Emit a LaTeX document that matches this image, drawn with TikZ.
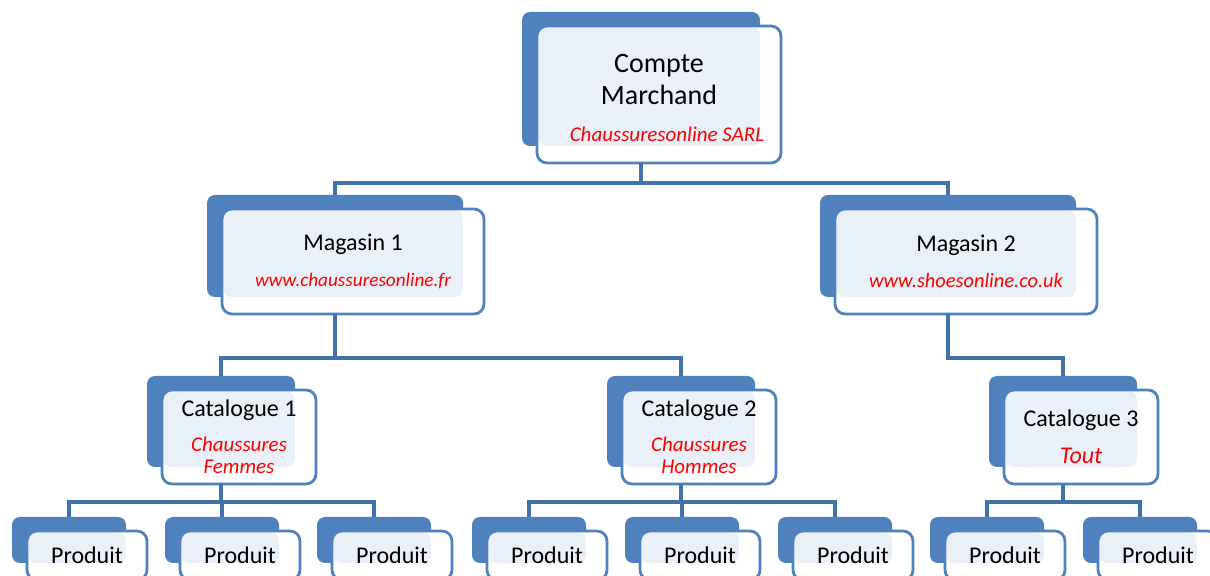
\documentclass[tikz,border=0pt]{standalone}
\usepackage{fontspec}
\setmainfont{Carlito}
\usetikzlibrary{calc}
\definecolor{boxblue}{HTML}{4F81BD}
\definecolor{boxlight}{HTML}{EAF0F8}
\definecolor{linkblue}{HTML}{4272AC}
\definecolor{notered}{HTML}{FF0000}
\tikzset{
	backbox/.style={fill=boxblue, rounded corners=4pt, inner sep=0pt, outer sep=0pt, anchor=north west},
	frontbox/.style={fill=white, rounded corners=5pt, inner sep=0pt, outer sep=0pt, anchor=north west},
	frontline/.style={draw=boxblue, line width=1.4pt, rounded corners=5pt},
	link/.style={draw=linkblue, line width=1.6pt},
	toptext/.style={align=center, text=black, yshift=-1.5pt, font=\fontsize{14}{16}\selectfont},
	boxtext/.style={align=center, text=black, font=\fontsize{12}{14.5}\selectfont}
}
\newcommand{\shoptag}[2][10.5]{{\color{notered}\itshape\fontsize{#1}{12}\selectfont #2}}
\def\orgbox[#1](#2)(#3,#4)(#5,#6)#7{
	\node[backbox, minimum width=#5*0.5pt, minimum height=#6*0.5pt] (#2) at (#3,#4) {};
	\node[frontbox, minimum width=(#5+6)*0.5pt, minimum height=(#6+3)*0.5pt] (#2-f) at ($(#2.north west)+(15,14)$) {};
	\fill[boxlight, rounded corners=4pt] ($(#2-f.north west)+(1.5,1.5)$) rectangle (#2.south east);
	\draw[frontline] (#2-f.north west) rectangle (#2-f.south east);
	\node[#1] (#2-t) at (#2-f.center) {#7};
}

\begin{document}
\begin{tikzpicture}[x=0.5pt, y=-0.5pt]
			%%%%% START %%%%%
			\useasboundingbox (0,0) rectangle (1210,576);
			\clip (0,0) rectangle (1210,576);
			
			\orgbox[toptext](cm)(522,12)(238,134){Compte\\Marchand\\[2.5pt]\hspace*{4pt}\shoptag{Chaussuresonline SARL}\hspace*{-4pt}}
			
			\orgbox[boxtext](m1)(207,195)(256,102){Magasin 1\\[3.5pt]\shoptag[9.6]{www.chaussuresonline.fr}}
			\orgbox[boxtext](m2)(820,195)(256,102){Magasin 2\\[3.5pt]\shoptag[10.2]{www.shoesonline.co.uk}}
			
			\orgbox[boxtext](c1)(147,376)(148,91){Catalogue 1\\[3pt]\shoptag{Chaussures}\\[-3.5pt]\shoptag{Femmes}}
			\orgbox[boxtext](c2)(607,376)(148,91){Catalogue 2\\[3pt]\shoptag{Chaussures}\\[-3.5pt]\shoptag{Hommes}}
			\orgbox[boxtext](c3)(989,376)(148,91){Catalogue 3\\[4pt]\shoptag[12]{Tout}}
			
			\foreach \n/\x in {p11/12, p12/165, p13/317, p21/472, p22/625, p23/778, p31/930, p32/1083}
				\orgbox[boxtext](\n)(\x,517)(114,46){Produit};
			
			% links
			\draw[link] (cm.south |- cm-f.south) -- ++(0,20) -| (m1.north);
			\draw[link] (cm.south |- cm-f.south) -- ++(0,20) -| (m2.north);
			
			\draw[link] (m1.south |- m1-f.south) -- ++(0,44) -| (c1.north);
			\draw[link] (m1.south |- m1-f.south) -- ++(0,44) -| (c2.north);
			\draw[link] (m2.south |- m2-f.south) -- ++(0,44) -| (c3.north);
			
			\foreach \p in {p11, p12, p13}
				\draw[link] (c1.south |- c1-f.south) -- ++(0,18) -| (\p.north);
			\foreach \p in {p21, p22, p23}
				\draw[link] (c2.south |- c2-f.south) -- ++(0,18) -| (\p.north);
			\foreach \p in {p31, p32}
				\draw[link] (c3.south |- c3-f.south) -- ++(0,18) -| (\p.north);
			
			%%%%% END %%%%%
\end{tikzpicture}
\end{document}
